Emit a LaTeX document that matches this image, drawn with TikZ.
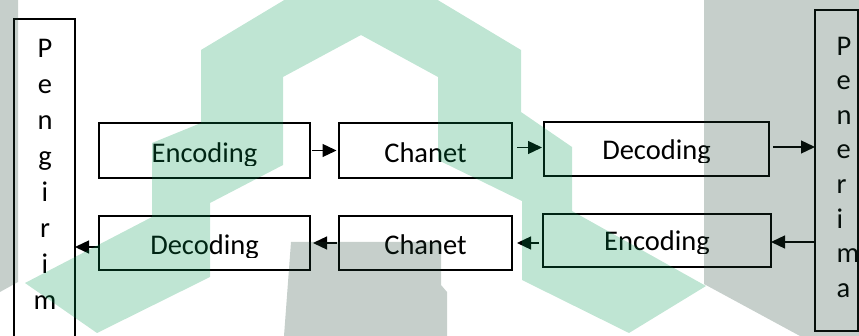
\documentclass[tikz,border=0pt]{standalone}
\usepackage{fontspec}
\setmainfont{Carlito}
\usetikzlibrary{arrows.meta}
\definecolor{wmgreen}{RGB}{0,150,80}
\definecolor{wmgray}{RGB}{27,63,47}
\begin{document}
\begin{tikzpicture}[x=1pt,y=-1pt,
  stage/.style={draw, line width=1.8pt, inner sep=0pt, outer sep=0pt, anchor=north west},
  lbl/.style={font=\fontsize{28.5}{34}\selectfont, inner sep=0pt, anchor=base},
  vlbl/.style={inner sep=0pt},
  flow/.style={-{Triangle[length=14pt,width=13pt]}, line width=1.3pt},
  wm/.style={fill opacity=0.25}]
\useasboundingbox (0,0) rectangle (859,336);
\clip (0,0) rectangle (859,336);

% sender and receiver columns
\node[stage, minimum width=61pt, minimum height=340pt] (pengirim) at (14,19) {};
\node[vlbl, anchor=north, align=center, font=\fontsize{28.5}{36}\selectfont]
  (pengirim-t) at (45,37) {\rule{0pt}{20pt}P\\e\\n\\g\\i\\r\\i\\m};
\node[stage, minimum width=43pt, minimum height=321pt] (penerima) at (815,10) {};
\node[vlbl, anchor=north west, align=left, font=\fontsize{28.5}{34.6}\selectfont]
  (penerima-t) at (836.5,35) {\rule{0pt}{20pt}P\\e\\n\\e\\r\\i\\m\\a};

% forward chain
\node[stage, minimum width=211pt, minimum height=55pt] (enc1) at (99,123) {};
\node[stage, minimum width=173pt, minimum height=55pt] (chan1) at (339,123) {};
\node[stage, minimum width=225pt, minimum height=54pt] (dec1) at (544,122) {};
% return chain
\node[stage, minimum width=211pt, minimum height=54pt] (dec2) at (99,216) {};
\node[stage, minimum width=173pt, minimum height=54pt] (chan2) at (339,216) {};
\node[stage, minimum width=228pt, minimum height=53pt] (enc2) at (543,214) {};

% box labels, cut just below the baseline
\begin{scope}\clip (99,123) rectangle (310,165.5);
  \node[lbl] (enc1-t) at (204.5,163) {Encoding};\end{scope}
\begin{scope}\clip (339,123) rectangle (512,165.5);
  \node[lbl] (chan1-t) at (425.5,163) {Chanet};\end{scope}
\begin{scope}\clip (544,122) rectangle (769,162.5);
  \node[lbl] (dec1-t) at (656.5,160) {Decoding};\end{scope}
\begin{scope}\clip (99,216) rectangle (310,257.5);
  \node[lbl] (dec2-t) at (204.5,255) {Decoding};\end{scope}
\begin{scope}\clip (339,216) rectangle (512,257.5);
  \node[lbl] (chan2-t) at (425.5,255) {Chanet};\end{scope}
\begin{scope}\clip (543,214) rectangle (771,253.5);
  \node[lbl] (enc2-t) at (657,251) {Encoding};\end{scope}

% connectors
\draw[flow] ([xshift=2pt]enc1.east) -- ([xshift=-2.5pt]chan1.west);
\draw[flow] ([xshift=5pt,yshift=3pt]chan1.east) -- ([xshift=-2pt,yshift=3pt]chan1.east -| dec1.west);
\draw[flow] ([xshift=4pt,yshift=2pt]dec1.east) -- ([yshift=2pt]dec1.east -| penerima.west);
\draw[flow] ([yshift=-1.5pt]enc2.east -| penerima.west) -- ([yshift=-1.5pt]enc2.east);
\draw[flow] ([xshift=-4pt]enc2.west |- chan2.east) -- ([xshift=5pt]chan2.east);
\draw[flow] ([xshift=-2pt]chan2.west) -- ([xshift=3pt]dec2.east);
\draw[flow] ([yshift=-4pt]dec2.west) -- ([yshift=-4pt]dec2.west -| pengirim.east);

% watermark laid over the diagram
\fill[wmgreen, wm] (25,283) -- (152,217) -- (152,143) -- (201,123) -- (201,50)
  -- (361,-46) -- (521,50) -- (521,112) -- (572,147) -- (572,211) -- (706,286)
  -- (629,333) -- (522,280) -- (522,201) -- (438,160) -- (438,77) -- (361,35)
  -- (283,77) -- (283,165) -- (210,203) -- (210,277) -- (97,333) -- cycle;
\fill[wmgray, wm] (0,0) -- (18,0) -- (18,282) -- (0,292) -- cycle;
\fill[wmgray, wm] (704,0) -- (859,0) -- (859,336) -- (800,336) -- (704,284) -- cycle;
\fill[wmgray, wm] (291,242) -- (441,242) -- (441,285) -- (447,292) -- (447,336)
  -- (284,336) -- cycle;
\end{tikzpicture}
\end{document}
